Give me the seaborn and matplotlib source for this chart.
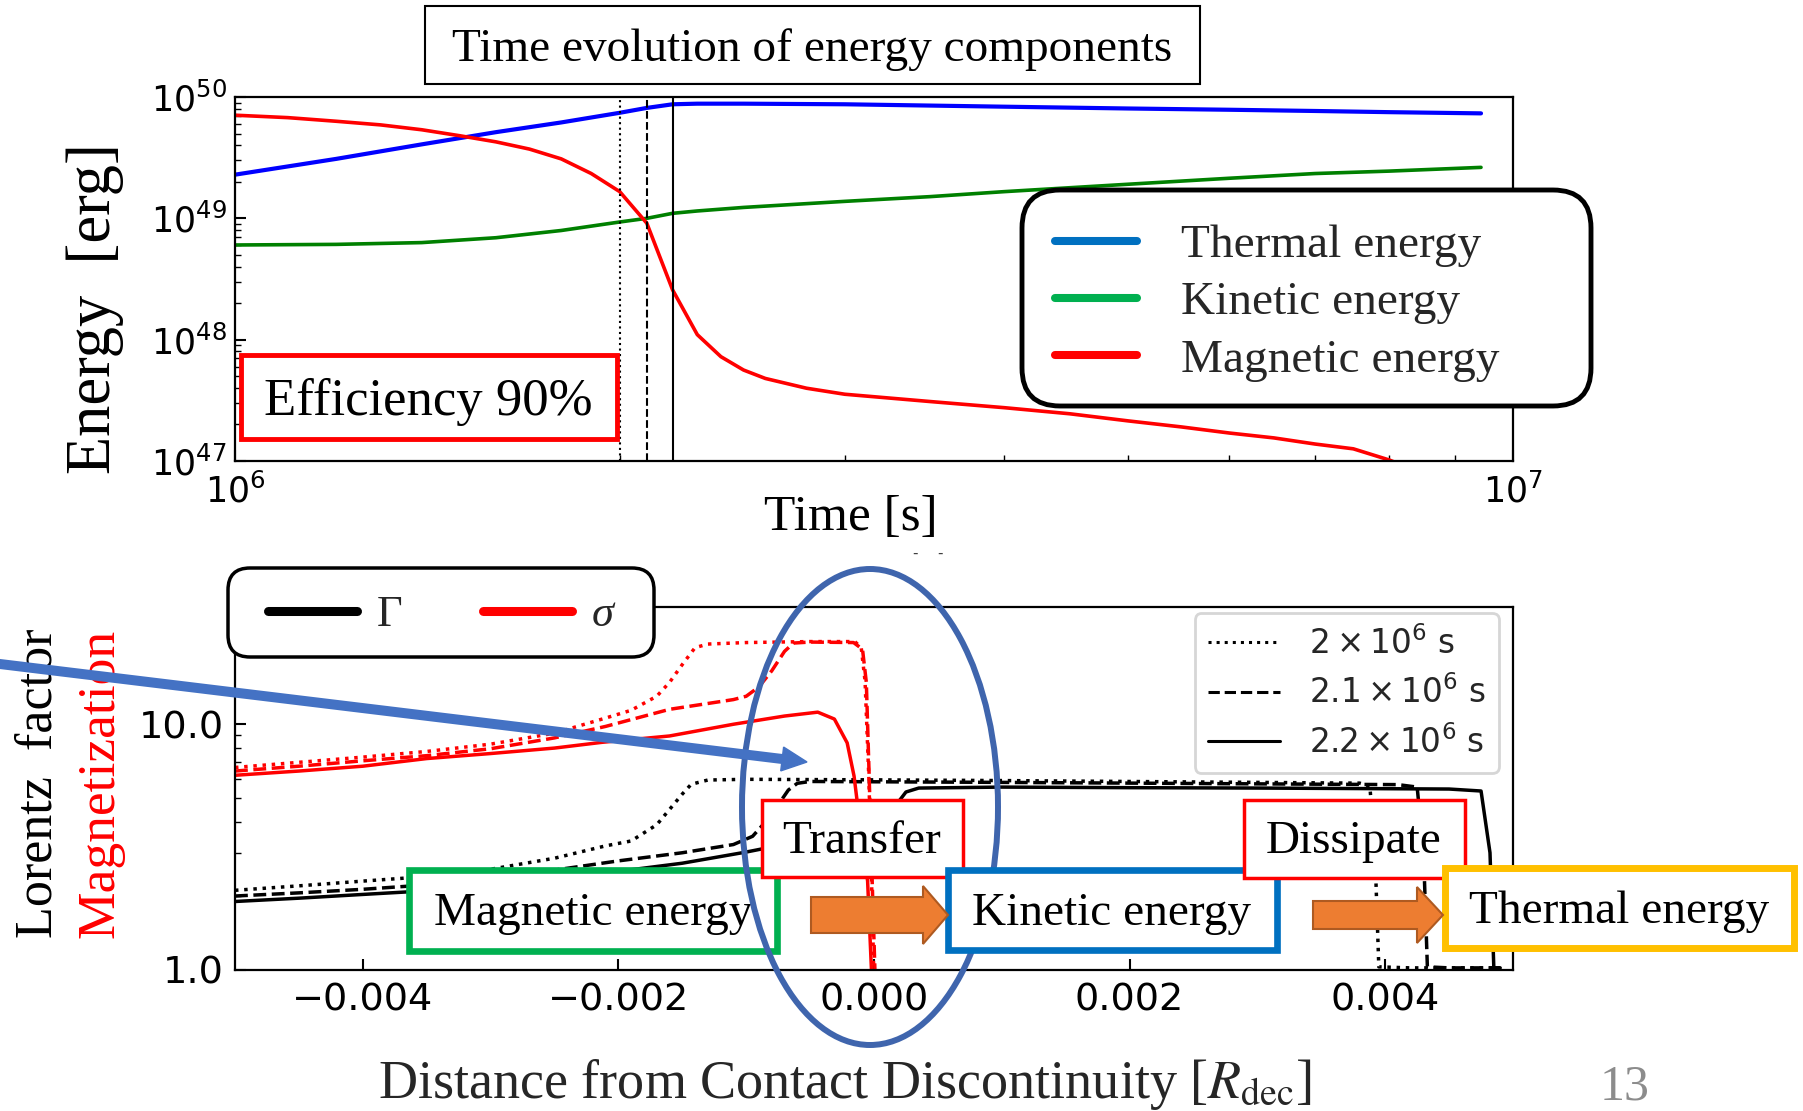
import numpy as np
import pandas as pd
import matplotlib
matplotlib.use("Agg")
import matplotlib.pyplot as plt
import seaborn as sns
from matplotlib.patches import Rectangle, FancyBboxPatch, Ellipse, Polygon
from matplotlib.lines import Line2D
from matplotlib.ticker import LogLocator, FixedLocator, FuncFormatter, NullFormatter, NullLocator

# ---------------- top panel data: energy components vs time ----------------
thermal_time = [1.0e6, 1.2e6, 1.4e6, 1.6e6, 1.8e6, 2.0e6, 2.1e6, 2.2e6, 2.3e6, 2.5e6,
                3.0e6, 4.0e6, 5.0e6, 6.0e6, 7.0e6, 8.0e6, 9.44e6]
thermal_energy = [2.29e49, 3.09e49, 4.07e49, 5.13e49, 6.17e49, 7.41e49, 8.13e49, 8.71e49, 8.81e49, 8.81e49,
                  8.71e49, 8.32e49, 8.04e49, 7.85e49, 7.67e49, 7.50e49, 7.33e49]
kinetic_time = [1.0e6, 1.2e6, 1.4e6, 1.6e6, 1.8e6, 2.0e6, 2.1e6, 2.2e6, 2.3e6, 2.5e6,
                3.0e6, 3.5e6, 4.0e6, 5.0e6, 6.0e6, 7.0e6, 8.0e6, 9.44e6]
kinetic_energy = [6.03e48, 6.10e48, 6.31e48, 6.92e48, 7.94e48, 9.33e48, 1.00e49, 1.10e49, 1.15e49, 1.23e49,
                  1.38e49, 1.51e49, 1.66e49, 1.91e49, 2.14e49, 2.34e49, 2.45e49, 2.63e49]
magnetic_time = [1.0e6, 1.1e6, 1.2e6, 1.3e6, 1.4e6, 1.5e6, 1.6e6, 1.7e6, 1.8e6, 1.9e6, 2.0e6, 2.1e6,
                 2.2e6, 2.3e6, 2.4e6, 2.5e6, 2.6e6, 2.8e6, 3.0e6, 3.5e6, 4.0e6, 4.5e6, 5.0e6, 5.5e6,
                 6.0e6, 6.5e6, 7.0e6, 7.5e6, 8.0e6, 8.5e6, 9.0e6, 9.44e6]
magnetic_energy = [7.08e49, 6.76e49, 6.31e49, 5.89e49, 5.37e49, 4.79e49, 4.27e49, 3.72e49, 3.09e49, 2.34e49,
                   1.66e49, 9.12e48, 2.57e48, 1.10e48, 7.24e47, 5.62e47, 4.79e47, 3.98e47, 3.55e47, 3.09e47,
                   2.75e47, 2.45e47, 2.14e47, 1.91e47, 1.70e47, 1.55e47, 1.38e47, 1.26e47, 1.02e47, 7.9e46,
                   6.3e46, 5.0e46]
component_names = ["Thermal energy", "Kinetic energy", "Magnetic energy"]
plot_colors = ["blue", "green", "red"]
legend_colors = ["#0070C0", "#00B050", "#FF0000"]
snapshot_times = [2.0e6, 2.1e6, 2.2e6]

# ---------------- bottom panel data: Lorentz factor and magnetization profiles ----------------
snap_labels = ["2.0", "2.1", "2.2"]
gamma_x_20 = [-0.005, -0.0045, -0.004, -0.0035, -0.003, -0.0025, -0.0021, -0.0019, -0.0017, -0.0016,
              -0.0015, -0.00143, -0.0013, -0.001, 0.0, 0.001, 0.002, 0.003, 0.0038, 0.00388,
              0.00392, 0.00395, 0.0042, 0.0049]
gamma_20 = [2.11, 2.2, 2.3, 2.4, 2.57, 2.85, 3.2, 3.35, 3.9, 4.5,
            5.2, 5.7, 5.93, 5.97, 5.94, 5.9, 5.85, 5.8, 5.76, 5.6,
            3.0, 1.03, 1.02, 1.02]
gamma_x_21 = [-0.005, -0.0045, -0.004, -0.0035, -0.003, -0.0025, -0.002, -0.0015, -0.0011, -0.00095,
              -0.00085, -0.00075, -0.00067, -0.0006, -0.0005, 0.001, 0.002, 0.003, 0.0041, 0.00425,
              0.0043, 0.00433, 0.0045, 0.0049]
gamma_21 = [2.0, 2.06, 2.13, 2.22, 2.35, 2.55, 2.78, 3.0, 3.24, 3.5,
            4.0, 4.7, 5.4, 5.75, 5.85, 5.8, 5.76, 5.72, 5.68, 5.55,
            3.0, 1.03, 1.02, 1.02]
gamma_x_22 = [-0.005, -0.0045, -0.004, -0.0035, -0.003, -0.0025, -0.002, -0.0015, -0.001, -0.0005,
              -0.0001, 0.0001, 0.0002, 0.00025, 0.00035, 0.001, 0.002, 0.003, 0.0045, 0.00475,
              0.00482, 0.00485, 0.0049]
gamma_22 = [1.9, 1.96, 2.03, 2.1, 2.2, 2.35, 2.52, 2.72, 3.02, 3.4,
            3.9, 4.4, 4.9, 5.3, 5.5, 5.55, 5.52, 5.5, 5.45, 5.35,
            3.0, 1.02, 1.02]
sigma_x_20 = [-0.005, -0.0045, -0.004, -0.0035, -0.003, -0.0025, -0.0021, -0.0019, -0.0017, -0.0016,
              -0.0015, -0.0014, -0.0013, -0.001, -0.0005, -0.00015, -0.0001, -0.00007, -0.00004, -0.00001,
              0.00001, 0.0049]
sigma_20 = [6.67, 7.0, 7.35, 7.75, 8.3, 9.2, 10.6, 11.4, 13.0, 14.8,
            17.5, 20.5, 21.2, 21.5, 21.7, 21.7, 20.5, 15.0, 6.0, 1.5,
            0.5, 0.01]
sigma_x_21 = [-0.005, -0.0045, -0.004, -0.0035, -0.003, -0.0025, -0.0021, -0.0016, -0.0011, -0.001,
              -0.0009, -0.0008, -0.0007, -0.00063, -0.0005, -0.00016, -0.00009, -0.00006, -0.00004, -0.00001,
              0.00001, 0.0049]
sigma_21 = [6.45, 6.75, 7.1, 7.45, 7.95, 8.8, 9.8, 11.5, 12.6, 13.0,
            14.2, 16.5, 19.8, 21.4, 21.6, 21.5, 20.2, 14.8, 6.7, 1.93,
            0.9, 0.01]
sigma_x_22 = [-0.005, -0.0045, -0.004, -0.0035, -0.003, -0.0025, -0.00213, -0.0016, -0.0011, -0.0007,
              -0.00044, -0.00031, -0.00021, -0.000156, -0.000117, -0.00005, -0.00002, 0.0, 0.0049]
sigma_22 = [6.2, 6.45, 6.75, 7.25, 7.6, 8.0, 8.44, 8.96, 10.0, 10.8,
            11.2, 10.5, 8.4, 6.15, 4.2, 2.3, 1.0, 0.5, 0.01]
x_tick_values = [-0.004, -0.002, 0.0, 0.002, 0.004]
y_tick_values = [1.0, 10.0]
snapshot_legend_labels = [r"$2\times10^6$ s", r"$2.1\times10^6$ s", r"$2.2\times10^6$ s"]

# ---------------- figure setup ----------------
sns.set_style("ticks")
plt.rcParams["font.family"] = ["DejaVu Sans"]
plt.rcParams["axes.edgecolor"] = "black"
plt.rcParams["xtick.color"] = "black"
plt.rcParams["ytick.color"] = "black"
SERIF = "Liberation Serif"

W, H, DPI = 1803, 1111, 100
fig = plt.figure(figsize=(W / DPI, H / DPI), dpi=DPI)
fig.patch.set_facecolor("white")
tr = fig.dpi_scale_trans


def P(x, y):
    return (x / DPI, (H - y) / DPI)


ax1 = fig.add_axes([235 / W, 1 - 461 / H, 1278 / W, 364 / H])
ax2 = fig.add_axes([235 / W, 1 - 970 / H, 1278 / W, 363 / H])

# ---------------- top panel ----------------
top_df = pd.concat([
    pd.DataFrame({"time": thermal_time, "energy": thermal_energy, "component": component_names[0]}),
    pd.DataFrame({"time": kinetic_time, "energy": kinetic_energy, "component": component_names[1]}),
    pd.DataFrame({"time": magnetic_time, "energy": magnetic_energy, "component": component_names[2]}),
], ignore_index=True)
sns.lineplot(data=top_df, x="time", y="energy", hue="component", hue_order=component_names,
             palette=dict(zip(component_names, plot_colors)), estimator=None, sort=False,
             legend=False, ax=ax1, lw=2.6)
for ln in ax1.get_lines():
    if ln.get_color() == "blue":
        ln.set_linewidth(3.0)
for t, ls in zip(snapshot_times, [":", "--", "-"]):
    ax1.axvline(t, color="black", ls=ls, lw=1.5)
ax1.set_xscale("log")
ax1.set_yscale("log")
ax1.set_xlim(1e6, 1e7)
ax1.set_ylim(1e47, 1e50)
ax1.set_xlabel("")
ax1.set_ylabel("")
ax1.xaxis.set_major_locator(LogLocator(base=10, numticks=10))
ax1.xaxis.set_minor_locator(LogLocator(base=10, subs=np.arange(2, 10), numticks=20))
ax1.xaxis.set_minor_formatter(NullFormatter())
ax1.yaxis.set_major_locator(LogLocator(base=10, numticks=10))
ax1.yaxis.set_minor_locator(LogLocator(base=10, subs=np.arange(2, 10), numticks=20))
ax1.yaxis.set_minor_formatter(NullFormatter())
ax1.tick_params(which="both", direction="in", top=False, right=False, labelsize=25)
ax1.tick_params(which="major", length=8, width=1.5)
ax1.tick_params(which="minor", length=4, width=1.0)
ax1.tick_params(axis="x", which="major", pad=9)
ax1.tick_params(axis="y", which="major", pad=6)
for sp in ax1.spines.values():
    sp.set_linewidth(1.6)
    sp.set_color("black")

# ---------------- bottom panel ----------------
parts = []
for lab, xs, ys in zip(snap_labels, [gamma_x_20, gamma_x_21, gamma_x_22], [gamma_20, gamma_21, gamma_22]):
    parts.append(pd.DataFrame({"x": xs, "value": ys, "quantity": "Γ", "snapshot": lab}))
for lab, xs, ys in zip(snap_labels, [sigma_x_20, sigma_x_21, sigma_x_22], [sigma_20, sigma_21, sigma_22]):
    parts.append(pd.DataFrame({"x": xs, "value": ys, "quantity": "σ", "snapshot": lab}))
bot_df = pd.concat(parts, ignore_index=True)
sns.lineplot(data=bot_df, x="x", y="value", hue="quantity", style="snapshot",
             hue_order=["Γ", "σ"], style_order=snap_labels,
             palette={"Γ": "black", "σ": "red"},
             dashes={"2.0": (1, 1.65), "2.1": (3.7, 1.6), "2.2": ""},
             estimator=None, sort=False, legend=False, ax=ax2, lw=2.5)
ax2.set_yscale("log")
ax2.set_xlim(-0.005, 0.005)
ax2.set_ylim(1.0, 30.0)
ax2.set_xlabel("")
ax2.set_ylabel("")
ax2.xaxis.set_major_locator(FixedLocator(x_tick_values))
ax2.xaxis.set_minor_locator(NullLocator())
ax2.xaxis.set_major_formatter(FuncFormatter(lambda v, p: f"{v:.3f}".replace("-", "\u2212") if abs(v) > 1e-12 else "0.000"))
ax2.yaxis.set_major_locator(FixedLocator(y_tick_values))
ax2.yaxis.set_major_formatter(FuncFormatter(lambda v, p: f"{v:.1f}"))
ax2.yaxis.set_minor_locator(LogLocator(base=10, subs=np.arange(2, 10), numticks=20))
ax2.yaxis.set_minor_formatter(NullFormatter())
ax2.tick_params(which="both", direction="in", top=False, right=False, labelsize=27.5)
ax2.tick_params(which="major", length=8, width=1.5)
ax2.tick_params(which="minor", length=4, width=1.0)
ax2.tick_params(axis="x", which="major", pad=9)
ax2.tick_params(axis="y", which="major", pad=8)
for sp in ax2.spines.values():
    sp.set_linewidth(1.6)
    sp.set_color("black")

ls_handles = [Line2D([], [], color="black", lw=2.2, ls=(0, (1, 1.65))),
              Line2D([], [], color="black", lw=2.2, ls=(0, (3.7, 1.6))),
              Line2D([], [], color="black", lw=2.2, ls="-")]
leg3 = ax2.legend(ls_handles, snapshot_legend_labels, loc="upper right",
                  bbox_to_anchor=P(1499, 613), bbox_transform=tr, borderaxespad=0,
                  fontsize=23.5, handlelength=2.2, handletextpad=0.9, labelspacing=0.45,
                  framealpha=0.8, edgecolor="0.8", fancybox=True)
leg3.get_frame().set_linewidth(2.0)


# ---------------- slide overlays ----------------
def box(x0, y0, x1, y1, ec, lw, z, round_r=None):
    if round_r is None:
        patch = Rectangle(P(x0, y1), (x1 - x0) / DPI, (y1 - y0) / DPI, transform=tr,
                          fc="white", ec=ec, lw=lw, zorder=z)
    else:
        patch = FancyBboxPatch(P(x0, y1), (x1 - x0) / DPI, (y1 - y0) / DPI,
                               boxstyle=f"round,pad=0,rounding_size={round_r / DPI}",
                               transform=tr, fc="white", ec=ec, lw=lw, zorder=z)
    fig.add_artist(patch)


def label(x, y, s, size, z, color="black", ha="center", va="baseline", **kw):
    fig.text(*P(x, y), s, transform=tr, fontsize=size, family=SERIF, color=color,
             ha=ha, va=va, zorder=z, **kw)


# title box
box(425, 6, 1200, 84, "black", 1.5, 6)
label(812, 61, "Time evolution of energy components", 34, 6.1)
# efficiency box
box(241, 355, 617, 439, "#FF0000", 3.5, 6)
label(428, 415, "Efficiency 90%", 38, 6.1)
# axis-like labels (slide text)
label(851, 530, "Time [s]", 37, 6.1)
label(110, 474, "Energy  [erg]", 45, 6.1, ha="left", rotation=90, rotation_mode="anchor")
label(52, 938, "Lorentz  factor", 37.5, 6.1, ha="left", rotation=90, rotation_mode="anchor")
label(114, 938, "Magnetization", 38.5, 6.1, color="#FF0000", ha="left", rotation=90, rotation_mode="anchor")
fig.text(*P(845, 1098), r"Distance from Contact Discontinuity [$R_{\rm dec}$]", transform=tr,
         fontsize=39, family=SERIF, math_fontfamily="stix", ha="center", va="baseline", zorder=6.1)
label(1625, 1087, "13", 36, 6.1, color="#8C8C8C", va="center")
fig.text(*P(928, 554), "-    -", transform=tr, fontsize=11, color="0.25", ha="center", va="center")

# top legend (energy components)
box(1022, 190, 1591, 406, "black", 3.5, 6, round_r=38)
top_handles = [Line2D([], [], color=c, lw=5.8) for c in legend_colors]
leg1 = fig.legend(top_handles, component_names, loc="upper left", bbox_to_anchor=P(1055, 224),
                  bbox_transform=tr, frameon=False, prop={"family": SERIF, "size": 34},
                  handlelength=1.74, handletextpad=0.93, labelspacing=0.3, borderpad=0, borderaxespad=0)
leg1.set_zorder(6.2)

# Gamma / sigma legend
box(228, 568, 654, 657, "black", 2.5, 6, round_r=22)
gs_handles = [Line2D([], [], color="black", lw=6.5), Line2D([], [], color="red", lw=6.5)]
leg2 = fig.legend(gs_handles, ["Γ", "σ"], loc="upper left", bbox_to_anchor=P(268, 595),
                  bbox_transform=tr, frameon=False, prop={"family": SERIF, "size": 32}, ncol=2,
                  handlelength=2.0, handletextpad=0.45, columnspacing=1.8, borderpad=0, borderaxespad=0)
leg2.get_texts()[1].set_fontstyle("italic")
leg2.set_zorder(6.2)

# energy-flow boxes
box(409, 870, 777, 951, "#00B050", 4.8, 5)
label(593, 925, "Magnetic energy", 34, 5.1)
ell = Ellipse(P(870, 807), 256 / DPI, 476 / DPI, transform=tr, fill=False, ec="#3F65AD", lw=4.3, zorder=5.5)
fig.add_artist(ell)
box(762, 800, 963, 877, "#FF0000", 2.5, 6)
label(862, 853, "Transfer", 34, 6.1)
box(948, 870, 1277, 950, "#0070C0", 4.8, 6)
label(1112, 925, "Kinetic energy", 34, 6.1)
box(1244, 800, 1465, 878, "#FF0000", 2.5, 6)
label(1354, 853, "Dissipate", 34, 6.1)
box(1445, 868, 1794, 948, "#FFC000", 5.0, 6)
label(1619, 923, "Thermal energy", 34, 6.1)


def block_arrow(x0, xh, xt, yc, hs, hh):
    pts = [(x0, yc - hs), (xh, yc - hs), (xh, yc - hh), (xt, yc), (xh, yc + hh), (xh, yc + hs), (x0, yc + hs)]
    fig.add_artist(Polygon([P(*p) for p in pts], closed=True, transform=tr,
                           fc="#ED7D31", ec="#AE5A21", lw=1.5, zorder=7))


block_arrow(811, 923, 948, 915, 18, 29)
block_arrow(1313, 1417, 1443, 915, 14, 28)

# blue pointer arrow
start = np.array([-10.0, 662.8])
tip = np.array([807.0, 762.0])
u = (tip - start) / np.linalg.norm(tip - start)
nv = np.array([-u[1], u[0]])
base = tip - 25 * u
shaft_end = base + 2 * u
fig.add_artist(Line2D([start[0] / DPI, shaft_end[0] / DPI], [(H - start[1]) / DPI, (H - shaft_end[1]) / DPI],
                      transform=tr, color="#4472C4", lw=7.2, solid_capstyle="butt", zorder=8))
head = [base + 12 * nv, tip, base - 12 * nv]
fig.add_artist(Polygon([P(*p) for p in head], closed=True, transform=tr, fc="#4472C4", ec="#4472C4",
                       lw=1, zorder=8))

fig.savefig("out.png", dpi=DPI)
